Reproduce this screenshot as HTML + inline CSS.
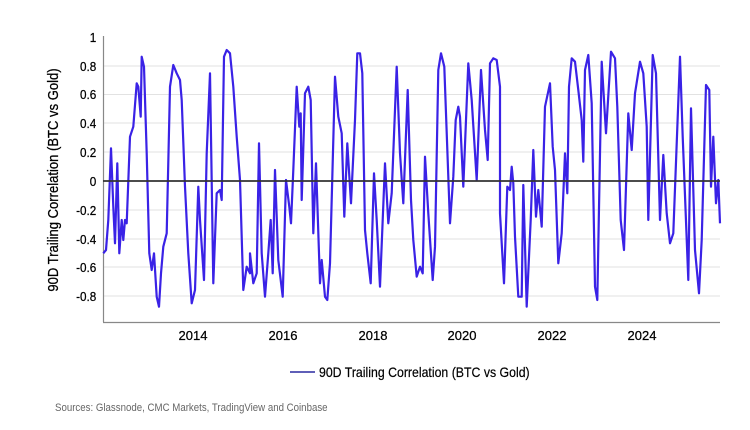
<!DOCTYPE html>
<html><head><meta charset="utf-8"><style>
html,body{margin:0;padding:0;background:#fff;width:750px;height:430px;overflow:hidden}
svg text{font-family:"Liberation Sans",Arial,sans-serif}
</style></head><body>
<svg id="s" width="750" height="430" viewBox="0 0 750 430" xmlns="http://www.w3.org/2000/svg">
<g stroke="#e2e2e2" stroke-width="1">
<line x1="103" x2="720" y1="66" y2="66"/><line x1="103" x2="720" y1="94.5" y2="94.5"/>
<line x1="103" x2="720" y1="123" y2="123"/><line x1="103" x2="720" y1="152" y2="152"/>
<line x1="103" x2="720" y1="210" y2="210"/><line x1="103" x2="720" y1="239" y2="239"/>
<line x1="103" x2="720" y1="267" y2="267"/><line x1="103" x2="720" y1="296" y2="296"/>
</g>
<line x1="103.5" x2="103.5" y1="36" y2="322" stroke="#888" stroke-width="1.2"/>
<line x1="103" x2="720" y1="322.5" y2="322.5" stroke="#888" stroke-width="1.2"/>
<g font-size="13" text-anchor="end" fill="#000" stroke="#000" stroke-width="0.25" transform="scale(0.9,1)">
<text x="107" y="42">1</text><text x="107" y="71">0.8</text><text x="107" y="99">0.6</text>
<text x="107" y="128">0.4</text><text x="107" y="157">0.2</text><text x="107" y="186">0</text>
<text x="107" y="215">-0.2</text><text x="107" y="244">-0.4</text><text x="107" y="272">-0.6</text>
<text x="107" y="301">-0.8</text>
</g>
<g font-size="13" text-anchor="middle" fill="#000" stroke="#000" stroke-width="0.25">
<text x="193" y="340">2014</text><text x="283" y="340">2016</text><text x="373" y="340">2018</text>
<text x="462" y="340">2020</text><text x="552" y="340">2022</text><text x="642" y="340">2024</text>
</g>
<text transform="translate(58,180) rotate(-90) scale(0.9,1)" font-size="14.5" text-anchor="middle" fill="#000" stroke="#000" stroke-width="0.25">90D Trailing Correlation (BTC vs Gold)</text>
<polyline id="p" fill="none" stroke="#3a22e6" stroke-width="2.2" stroke-linejoin="round" points=""/>
<line x1="103" x2="720" y1="181" y2="181" stroke="#333" stroke-width="1.8"/>
<line x1="290" x2="315" y1="372" y2="372" stroke="#2a2aa0" stroke-width="1.5"/>
<text x="319" y="377" font-size="14" fill="#000" stroke="#000" stroke-width="0.2" transform="translate(319,0) scale(0.88,1) translate(-319,0)">90D Trailing Correlation (BTC vs Gold)</text>
<text x="55" y="411" font-size="11" fill="#666" transform="translate(55,0) scale(0.88,1) translate(-55,0)">Sources: Glassnode, CMC Markets, TradingView and Coinbase</text>
</svg>
<script>
var z1=[310,700,318,690,325,600,333,385,340,560,345,670,352,430,358,700,365,600,370,660,375,600,380,610,390,350,400,320,410,190,415,200,422,290,425,110,432,140,440,400,448,700,455,750,462,700,470,830,477,860,483,760,490,680,500,640,510,200,520,135,530,160,540,180,545,240,555,500,565,700,575,850,585,810,595,500,600,600,612,780,620,400,630,160,640,790,650,520,660,510,665,540,672,110,680,90,690,100,700,200,710,350,720,480,730,810,740,740,750,760];
var z2=[0,700,10,790,20,760,27,370,35,700,45,830,55,700,62,600,68,760,75,450,85,720,98,830,108,480,118,560,123,610,130,450,140,200,148,320,152,280,155,540,165,220,175,200,182,240,190,640,198,430,210,790,215,720,225,830,232,840,240,730,255,170,265,290,275,340,283,590,292,370,303,550,315,300,322,100,330,100,337,160,345,630,352,700,362,790,372,460,380,600,390,800,405,430,415,610,425,520,440,140,450,400,460,550,473,210,483,540,490,660,500,770,510,740,518,760,525,410,535,580,548,780,555,680,565,150,573,100,583,140,600,610,610,470,617,300,625,260,630,290,640,500,655,130,665,240,680,480,693,150,705,330,713,420,720,130,730,115,740,120,750,200];
var z3=[0,580,12,790,22,500,30,510,35,440,40,490,45,650,55,830,65,830,70,495,80,860,92,600,100,390,108,590,115,510,125,620,135,260,150,190,158,380,165,450,175,730,185,640,195,400,202,520,207,200,215,115,225,125,235,210,245,300,250,425,255,150,265,105,275,250,285,800,292,840,305,125,318,340,333,95,345,115,352,260,362,600,372,690,385,280,395,390,405,220,420,125,430,160,440,320,445,600,458,105,468,160,480,600,490,405,500,580,510,670,520,640,527,450,540,110,548,350,565,780,573,265,585,690,597,820,605,660,618,195,628,210,633,500,640,350,648,550,655,480,660,610];
var pts=[];
function add(a,ox){for(var i=0;i<a.length;i+=2){pts.push((ox+a[i]/3).toFixed(1)+","+(20+a[i+1]/3).toFixed(1));}}
add(z1,0);add(z2,250);add(z3,500);
document.getElementById("p").setAttribute("points",pts.join(" "));
</script>
</body></html>
